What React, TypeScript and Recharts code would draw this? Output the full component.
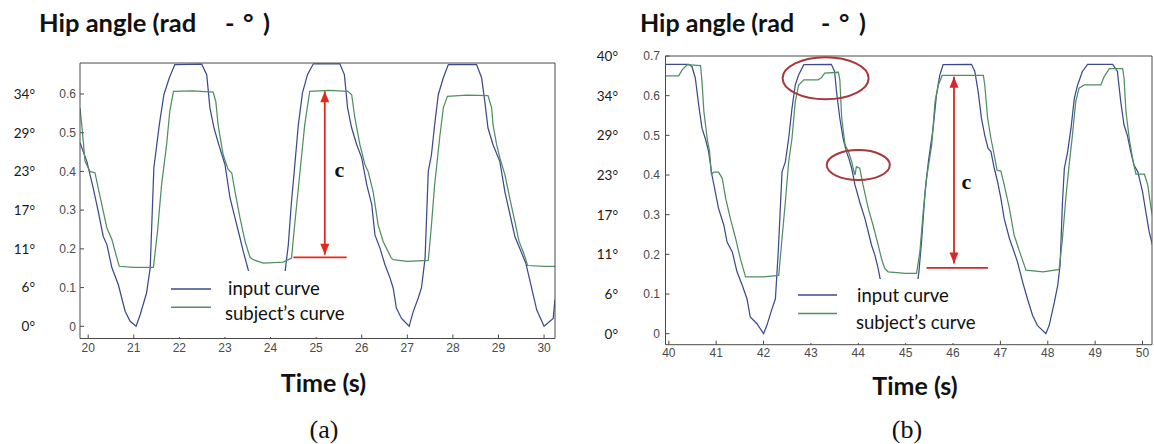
import React from 'react';
import { LineChart, Line, XAxis, YAxis, ReferenceLine, ReferenceDot, Legend } from 'recharts';

type Pt = [number, number];

// ---- data (time in s, hip angle in rad) ----
const leftInput: Pt[] = [
  [19.82, 0.474], [19.97, 0.426], [20.11, 0.357], [20.22, 0.297], [20.33, 0.232], [20.41, 0.211],
  [20.52, 0.151], [20.66, 0.108], [20.81, 0.039], [20.92, 0.013], [21.05, 0.0], [21.14, 0.03],
  [21.28, 0.086], [21.36, 0.151], [21.44, 0.409], [21.56, 0.521], [21.66, 0.598], [21.78, 0.642],
  [21.9, 0.676], [22.49, 0.677], [22.6, 0.65], [22.67, 0.564], [22.76, 0.512], [22.875, 0.465],
  [23.0, 0.418], [23.11, 0.332], [23.22, 0.28], [23.33, 0.228], [23.4, 0.194], [23.51, 0.146],
  [23.62, 0.11], [23.8, 0.05], [23.95, 0.012], [24.05, 0.0], [24.15, 0.04], [24.25, 0.09],
  [24.32, 0.142], [24.39, 0.211], [24.46, 0.323], [24.52, 0.4], [24.61, 0.521], [24.7, 0.603],
  [24.81, 0.65], [24.94, 0.678], [25.52, 0.678], [25.62, 0.65], [25.69, 0.564], [25.78, 0.512],
  [25.89, 0.469], [26.0, 0.435], [26.11, 0.366], [26.22, 0.314], [26.29, 0.236], [26.4, 0.202],
  [26.51, 0.159], [26.62, 0.125], [26.69, 0.099], [26.76, 0.047], [26.87, 0.021], [27.04, 0.0],
  [27.13, 0.038], [27.24, 0.073], [27.31, 0.099], [27.39, 0.176], [27.46, 0.4], [27.53, 0.443],
  [27.6, 0.521], [27.68, 0.598], [27.79, 0.642], [27.9, 0.676], [28.52, 0.676], [28.63, 0.642],
  [28.7, 0.581], [28.77, 0.512], [28.88, 0.469], [29.03, 0.426], [29.14, 0.348], [29.36, 0.232],
  [29.6, 0.163], [29.84, 0.042], [30.0, 0.0], [30.2, 0.02], [30.24, 0.07],
];
const leftSubject: Pt[] = [
  [19.82, 0.564], [19.86, 0.52], [19.93, 0.426], [20.04, 0.4], [20.15, 0.396], [20.22, 0.357],
  [20.41, 0.254], [20.52, 0.224], [20.63, 0.176], [20.68, 0.155], [21.0, 0.152], [21.43, 0.152],
  [21.52, 0.245], [21.61, 0.366], [21.72, 0.469], [21.79, 0.556], [21.87, 0.607], [22.3, 0.608],
  [22.74, 0.605], [22.8, 0.58], [22.85, 0.52], [22.96, 0.443], [23.07, 0.405], [23.15, 0.396],
  [23.22, 0.348], [23.33, 0.28], [23.44, 0.22], [23.55, 0.178], [23.62, 0.172], [23.84, 0.163],
  [24.28, 0.166], [24.46, 0.176], [24.53, 0.263], [24.64, 0.392], [24.75, 0.521], [24.86, 0.607],
  [25.3, 0.609], [25.7, 0.607], [25.78, 0.598], [25.85, 0.538], [25.96, 0.469], [26.07, 0.418],
  [26.14, 0.4], [26.25, 0.348], [26.36, 0.262], [26.47, 0.219], [26.65, 0.176], [26.69, 0.172],
  [27.0, 0.168], [27.46, 0.17], [27.53, 0.262], [27.6, 0.366], [27.71, 0.487], [27.79, 0.564],
  [27.88, 0.594], [28.3, 0.597], [28.77, 0.596], [28.85, 0.564], [28.88, 0.521], [28.96, 0.469],
  [29.03, 0.435], [29.14, 0.392], [29.25, 0.33], [29.36, 0.27], [29.45, 0.22], [29.55, 0.19],
  [29.64, 0.157], [30.0, 0.155], [30.24, 0.155],
];
const rightInput: Pt[] = [
  [39.93, 0.679], [40.42, 0.679], [40.49, 0.673], [40.56, 0.644], [40.63, 0.577], [40.7, 0.518],
  [40.77, 0.492], [40.84, 0.459], [40.91, 0.4], [40.98, 0.358], [41.05, 0.316], [41.16, 0.274],
  [41.23, 0.231], [41.34, 0.206], [41.44, 0.156], [41.55, 0.122], [41.65, 0.088], [41.72, 0.042],
  [41.86, 0.025], [42.0, 0.0], [42.07, 0.021], [42.18, 0.063], [42.25, 0.088], [42.31, 0.206],
  [42.36, 0.332], [42.39, 0.408], [42.46, 0.433], [42.53, 0.492], [42.6, 0.568], [42.67, 0.627],
  [42.74, 0.652], [42.85, 0.678], [43.43, 0.679], [43.5, 0.661], [43.54, 0.61], [43.61, 0.543],
  [43.68, 0.492], [43.75, 0.459], [43.8, 0.442], [43.86, 0.417], [43.93, 0.375], [44.03, 0.332],
  [44.14, 0.29], [44.21, 0.257], [44.28, 0.223], [44.35, 0.198], [44.42, 0.164], [44.46, 0.139],
  [44.6, 0.09], [44.75, 0.04], [44.9, 0.01], [45.0, 0.0], [45.1, 0.04], [45.2, 0.1],
  [45.26, 0.139], [45.28, 0.156], [45.34, 0.24], [45.41, 0.358], [45.48, 0.434], [45.58, 0.518],
  [45.65, 0.602], [45.72, 0.652], [45.79, 0.678], [46.39, 0.679], [46.46, 0.661], [46.53, 0.61],
  [46.6, 0.543], [46.67, 0.5], [46.74, 0.467], [46.8, 0.459], [46.87, 0.417], [46.94, 0.383],
  [47.01, 0.341], [47.08, 0.29], [47.19, 0.24], [47.29, 0.206], [47.36, 0.181], [47.47, 0.13],
  [47.57, 0.088], [47.68, 0.046], [47.78, 0.021], [47.96, 0.0], [48.03, 0.021], [48.14, 0.08],
  [48.21, 0.122], [48.26, 0.173], [48.31, 0.332], [48.35, 0.417], [48.42, 0.459], [48.49, 0.518],
  [48.56, 0.593], [48.63, 0.627], [48.73, 0.661], [48.84, 0.679], [49.37, 0.679], [49.47, 0.661],
  [49.54, 0.585], [49.61, 0.526], [49.68, 0.5], [49.75, 0.459], [49.82, 0.425], [49.9, 0.408],
  [50.0, 0.358], [50.07, 0.307], [50.14, 0.257], [50.21, 0.223],
];
const rightSubject: Pt[] = [
  [39.93, 0.65], [40.21, 0.65], [40.28, 0.665], [40.39, 0.678], [40.67, 0.676], [40.7, 0.636],
  [40.74, 0.56], [40.81, 0.492], [40.86, 0.459], [40.9, 0.402], [40.95, 0.407], [41.05, 0.407],
  [41.13, 0.391], [41.2, 0.341], [41.3, 0.29], [41.41, 0.24], [41.51, 0.189], [41.62, 0.143],
  [42.0, 0.143], [42.32, 0.147], [42.39, 0.24], [42.46, 0.332], [42.53, 0.433], [42.6, 0.492],
  [42.67, 0.585], [42.74, 0.627], [42.85, 0.64], [43.15, 0.64], [43.22, 0.645], [43.29, 0.657],
  [43.58, 0.659], [43.61, 0.64], [43.65, 0.543], [43.72, 0.476], [43.79, 0.459], [43.86, 0.434],
  [43.89, 0.417], [43.93, 0.4], [43.96, 0.421], [44.03, 0.417], [44.1, 0.375], [44.21, 0.316],
  [44.31, 0.274], [44.42, 0.223], [44.49, 0.189], [44.56, 0.164], [44.63, 0.156], [45.0, 0.152],
  [45.23, 0.152], [45.3, 0.206], [45.37, 0.307], [45.44, 0.391], [45.55, 0.476], [45.62, 0.585],
  [45.69, 0.627], [45.77, 0.651], [46.2, 0.651], [46.64, 0.651], [46.67, 0.627], [46.73, 0.543],
  [46.8, 0.492], [46.87, 0.45], [46.93, 0.412], [47.01, 0.41], [47.08, 0.375], [47.19, 0.316],
  [47.29, 0.248], [47.36, 0.223], [47.43, 0.198], [47.54, 0.16], [47.9, 0.156], [48.24, 0.162],
  [48.31, 0.24], [48.38, 0.341], [48.45, 0.425], [48.52, 0.5], [48.59, 0.585], [48.66, 0.619],
  [48.77, 0.627], [49.12, 0.627], [49.19, 0.648], [49.3, 0.668], [49.58, 0.668], [49.61, 0.644],
  [49.65, 0.56], [49.72, 0.492], [49.79, 0.442], [49.86, 0.402], [50.04, 0.402], [50.11, 0.375],
  [50.18, 0.316], [50.25, 0.274],
];

const leftTimeTicks = [20, 21, 22, 23, 24, 25, 26, 27, 28, 29, 30];
const rightTimeTicks = [40, 41, 42, 43, 44, 45, 46, 47, 48, 49, 50];
const leftRadTicks = [0, 0.1, 0.2, 0.3, 0.4, 0.5, 0.6];
const rightRadTicks = [0, 0.1, 0.2, 0.3, 0.4, 0.5, 0.6, 0.7];
const leftDegLabels = ['0°', '6°', '11°', '17°', '23°', '29°', '34°'];
const rightDegLabels = ['0°', '6°', '11°', '17°', '23°', '29°', '34°', '40°'];
const seriesNames = ['input curve', 'subject’s curve'];
const titleParts = ['Hip angle (rad', '-', '°', ')'];
const xTitle = 'Time (s)';
const panelLabels = ['(a)', '(b)'];
const amplitudeLabel = 'c';

// annotation anchors (data units)
const leftArrow = { t: 25.19, top: 0.607, bottom: 0.185, t0: 24.5, t1: 25.67, base: 0.178 };
const rightArrow = { t: 46.02, top: 0.648, bottom: 0.177, t0: 45.44, t1: 46.74, base: 0.166 };
const rightMarks = [{ t: 43.31, v: 0.644 }, { t: 44.0, v: 0.425 }];

// ---- styling ----
const BLUE = '#3e4a8e';
const GREEN = '#4f8f62';
const AXIS = '#4a4a4a';
const TICK_FONT = "'Liberation Sans', Arial, sans-serif";

const toRows = (pts: Pt[]) => pts.map(([t, v]) => ({ t, v }));
const fmtRad = (v: number) => (v === 0 ? '0' : String(v));

function makeYTick(ticks: number[], degs: string[], degGap: number) {
  return (props: any) => {
    const { x, y, payload } = props;
    const i = ticks.indexOf(payload.value);
    return (
      <g>
        <text x={x} y={y} dy="0.36em" textAnchor="end" fontFamily={TICK_FONT} fontSize={12} fill="#4a4a4a">
          {fmtRad(payload.value)}
        </text>
        <text x={x - degGap} y={y} dy="0.36em" textAnchor="end" fontFamily="Lato, sans-serif" fontSize={13.5} fill="#1a1a1a">
          {i >= 0 ? degs[i] : ''}
        </text>
      </g>
    );
  };
}

const XTick = (props: any) => (
  <text x={props.x} y={props.y} dy="0.71em" textAnchor="middle" fontFamily={TICK_FONT} fontSize={12} fill="#4a4a4a">
    {props.payload.value}
  </text>
);

const headUp = (color: string) => (p: any) => (
  <path d={`M${p.cx},${p.cy} l-4.5,11 l9,0 z`} fill={color} />
);
const headDown = (color: string) => (p: any) => (
  <path d={`M${p.cx},${p.cy} l-4.5,-11 l9,0 z`} fill={color} />
);
const ellipseShape = (rx: number, ry: number) => (p: any) => (
  <ellipse cx={p.cx} cy={p.cy} rx={rx} ry={ry} fill="none" stroke="#a8383a" strokeWidth={2} />
);

type LegendGeom = {
  left: number; top: number; w: number; h: number;
  lx0: number; lx1: number; ly: [number, number];
  tx: [number, number]; ty: [number, number];
};

function legendContent(g: LegendGeom) {
  return () => (
    <svg width={g.w} height={g.h} style={{ display: 'block' }}>
      {seriesNames.map((name, i) => (
        <g key={name}>
          <line x1={g.lx0} x2={g.lx1} y1={g.ly[i]} y2={g.ly[i]} stroke={i === 0 ? BLUE : GREEN} strokeWidth={1.4} />
          <text x={g.tx[i]} y={g.ty[i]} dy="0.35em" fontFamily="Lato, sans-serif" fontSize={18.5} fill="#111">
            {name}
          </text>
        </g>
      ))}
    </svg>
  );
}

type PanelProps = {
  width: number; height: number;
  margin: { top: number; right: number; bottom: number; left: number };
  yAxisWidth: number;
  xDomain: [number, number]; yDomain: [number, number];
  xTicks: number[]; yTicks: number[]; degs: string[];
  degGap: number; yTickMargin: number; xTickMargin: number;
  input: Pt[]; subject: Pt[];
  arrow: { t: number; top: number; bottom: number; t0: number; t1: number; base: number };
  arrowColor: string;
  marks?: { t: number; v: number }[];
  legend: LegendGeom;
};

function Panel(p: PanelProps) {
  const inputRows = toRows(p.input);
  const subjectRows = toRows(p.subject);
  const ax = { xAxisId: 'b', yAxisId: 'l' } as const;
  const ellipseSizes = [[43, 21], [31.5, 15]];
  return (
    <LineChart width={p.width} height={p.height} margin={p.margin}>
      <XAxis
        xAxisId="b" type="number" dataKey="t" domain={p.xDomain} allowDataOverflow ticks={p.xTicks}
        interval={0} tickSize={-4} tickMargin={p.xTickMargin} tick={XTick} height={30}
        axisLine={{ stroke: AXIS }} tickLine={{ stroke: AXIS }}
      />
      <XAxis
        xAxisId="t" orientation="top" type="number" dataKey="t" domain={p.xDomain} allowDataOverflow
        ticks={p.xTicks} interval={0} tickSize={-4} tick={false} height={1}
        axisLine={{ stroke: AXIS }} tickLine={{ stroke: AXIS }}
      />
      <YAxis
        yAxisId="l" type="number" domain={p.yDomain} allowDataOverflow ticks={p.yTicks} interval={0}
        tickSize={-4} tickMargin={p.yTickMargin} tick={makeYTick(p.yTicks, p.degs, p.degGap)} width={p.yAxisWidth}
        axisLine={{ stroke: AXIS }} tickLine={{ stroke: AXIS }}
      />
      <YAxis
        yAxisId="r" orientation="right" type="number" domain={p.yDomain} allowDataOverflow ticks={p.yTicks}
        interval={0} tickSize={-4} tick={false} width={1}
        axisLine={{ stroke: AXIS }} tickLine={{ stroke: AXIS }}
      />
      <Line {...ax} data={inputRows} dataKey="v" name={seriesNames[0]} stroke={BLUE} strokeWidth={1.25}
        dot={false} isAnimationActive={false} type="linear" />
      <Line {...ax} data={subjectRows} dataKey="v" name={seriesNames[1]} stroke={GREEN} strokeWidth={1.25}
        dot={false} isAnimationActive={false} type="linear" />
      <ReferenceLine {...ax} segment={[{ x: p.arrow.t, y: p.arrow.top }, { x: p.arrow.t, y: p.arrow.bottom }]}
        stroke={p.arrowColor} strokeWidth={1.8} />
      <ReferenceLine {...ax} segment={[{ x: p.arrow.t0, y: p.arrow.base }, { x: p.arrow.t1, y: p.arrow.base }]}
        stroke={p.arrowColor} strokeWidth={1.8} />
      <ReferenceDot {...ax} x={p.arrow.t} y={p.arrow.top} r={4} shape={headUp(p.arrowColor)} />
      <ReferenceDot {...ax} x={p.arrow.t} y={p.arrow.bottom} r={4} shape={headDown(p.arrowColor)} />
      {(p.marks || []).map((m, i) => (
        <ReferenceDot key={i} {...ax} x={m.t} y={m.v} r={4}
          shape={ellipseShape(ellipseSizes[i][0], ellipseSizes[i][1])} />
      ))}
      <Legend
        layout="vertical" align="center" verticalAlign="middle"
        wrapperStyle={{ left: p.legend.left, top: p.legend.top, width: p.legend.w, height: p.legend.h, background: '#fff' }}
        content={legendContent(p.legend)}
      />
    </LineChart>
  );
}

function Overlay() {
  const titleFont = { fontFamily: 'Lato, sans-serif', fontWeight: 700 };
  return (
    <svg width={1154} height={444} style={{ position: 'absolute', left: 0, top: 0, pointerEvents: 'none' }}>
      <text y={31.5} fontSize={25.5} fill="#111" {...titleFont}>
        <tspan x={39}>{titleParts[0]}</tspan>
        <tspan x={225}>{titleParts[1]}</tspan>
        <tspan x={243}>{titleParts[2]}</tspan>
        <tspan x={263}>{titleParts[3]}</tspan>
      </text>
      <text y={31.5} fontSize={25} fill="#111" {...titleFont}>
        <tspan x={640}>{titleParts[0]}</tspan>
        <tspan x={821}>{titleParts[1]}</tspan>
        <tspan x={839}>{titleParts[2]}</tspan>
        <tspan x={859}>{titleParts[3]}</tspan>
      </text>
      <text x={323.5} y={391.5} textAnchor="middle" fontSize={25} fill="#111" {...titleFont}>{xTitle}</text>
      <text x={915} y={395} textAnchor="middle" fontSize={25} fill="#111" {...titleFont}>{xTitle}</text>
      <text x={324} y={438} textAnchor="middle" fontSize={26} fill="#111" fontFamily="'Liberation Serif', 'Times New Roman', serif">{panelLabels[0]}</text>
      <text x={907} y={438} textAnchor="middle" fontSize={26} fill="#111" fontFamily="'Liberation Serif', 'Times New Roman', serif">{panelLabels[1]}</text>
      <text x={339.5} y={177} textAnchor="middle" fontSize={22} fontWeight={700} fill="#111" fontFamily="'Liberation Serif', serif">{amplitudeLabel}</text>
      <text x={966.5} y={189} textAnchor="middle" fontSize={22} fontWeight={700} fill="#111" fontFamily="'Liberation Serif', serif">{amplitudeLabel}</text>
    </svg>
  );
}

export default function App() {
  return (
    <div style={{ position: 'fixed', left: 0, top: 0, width: 1154, height: 444, background: '#fff', overflow: 'hidden' }}>
      <div style={{ position: 'absolute', left: 0, top: 0 }}>
        <Panel
          width={580} height={444}
          margin={{ top: 62, right: 24, bottom: 75.5, left: 0 }}
          yAxisWidth={80}
          xDomain={[19.82, 30.24]} yDomain={[-0.0315, 0.68]}
          xTicks={leftTimeTicks} yTicks={leftRadTicks} degs={leftDegLabels}
          degGap={41} yTickMargin={8} xTickMargin={9}
          input={leftInput} subject={leftSubject}
          arrow={leftArrow} arrowColor="#e3281f"
          legend={{ left: 160, top: 271, w: 192, h: 66, lx0: 11, lx1: 51, ly: [18, 36.3], tx: [68, 65], ty: [18, 43] }}
        />
      </div>
      <div style={{ position: 'absolute', left: 580, top: 0 }}>
        <Panel
          width={574} height={444}
          margin={{ top: 55, right: 1, bottom: 69.3, left: 0 }}
          yAxisWidth={85.5}
          xDomain={[39.93, 50.2]} yDomain={[-0.0278, 0.7]}
          xTicks={rightTimeTicks} yTicks={rightRadTicks} degs={rightDegLabels}
          degGap={42} yTickMargin={9.5} xTickMargin={8}
          input={rightInput} subject={rightSubject}
          arrow={rightArrow} arrowColor="#d6282a"
          marks={rightMarks}
          legend={{ left: 205, top: 279, w: 195, h: 64, lx0: 13, lx1: 52, ly: [16, 34.5], tx: [72, 71], ty: [17, 44] }}
        />
      </div>
      <Overlay />
    </div>
  );
}
